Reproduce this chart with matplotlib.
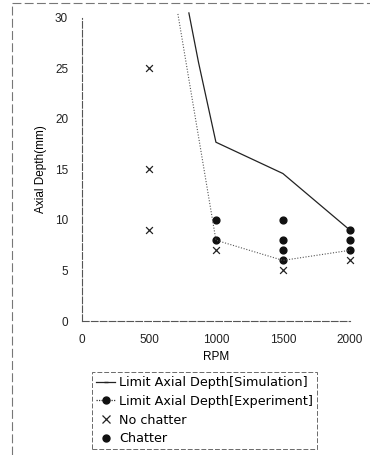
import matplotlib.pyplot as plt
from matplotlib.lines import Line2D

plt.rcParams["font.family"] = ["Liberation Sans", "DejaVu Sans"]

# limit curves
sim_rpm = [798, 870, 1000, 1500, 2000]
sim_depth = [30.5, 25.6, 17.7, 14.6, 9]
exp_rpm = [716, 1000, 1500, 2000]
exp_depth = [30.4, 8, 6, 7]

# cutting test results
stable_rpm = [500, 500, 500, 1000, 1500, 2000]
stable_depth = [25, 15, 9, 7, 5, 6]
chatter_rpm = [1000, 1000, 1500, 1500, 1500, 1500, 2000, 2000, 2000]
chatter_depth = [10, 8, 10, 8, 7, 6, 9, 8, 7]

x_ticks = [0, 500, 1000, 1500, 2000]
y_ticks = [0, 5, 10, 15, 20, 25, 30]

fig = plt.figure(figsize=(3.7, 4.55), dpi=100)
ax = fig.add_axes([0.2216, 0.2945, 0.724, 0.666])

ax.plot(sim_rpm, sim_depth, color="#222222", lw=0.9, clip_on=False)
ax.plot(exp_rpm, exp_depth, color="#555555", lw=0.8, ls=(0, (1, 1.5)), clip_on=False)
ax.scatter(stable_rpm, stable_depth, marker="x", s=24, color="#222222",
           linewidths=0.9, clip_on=False)
ax.scatter(chatter_rpm, chatter_depth, marker="o", s=24, color="#111111",
           clip_on=False)

ax.set_xlim(0, 2000)
ax.set_ylim(0, 30)
ax.set_xticks(x_ticks)
ax.set_yticks(y_ticks)
ax.tick_params(length=0, labelsize=8.5, pad=10, colors="#222222")
ax.tick_params(axis="x", pad=9)
for side in ("top", "right"):
    ax.spines[side].set_visible(False)
for side in ("left", "bottom"):
    ax.spines[side].set_color("#555555")
    ax.spines[side].set_linewidth(0.8)
    ax.spines[side].set_linestyle((0, (6, 2)))

ax.set_xlabel("RPM", fontsize=8.5, labelpad=4)
ax.set_ylabel("Axial Depth(mm)", fontsize=8.5, labelpad=6)

handles = [
    Line2D([], [], color="#222222", lw=0.9, marker="_", markersize=3),
    Line2D([], [], color="#333333", lw=0.9, ls=(0, (1, 1)), marker="o",
           markersize=5, markerfacecolor="#111111", markeredgecolor="#111111"),
    Line2D([], [], ls="none", marker="x", markersize=6, color="#222222", markeredgewidth=0.9),
    Line2D([], [], ls="none", marker="o", markersize=5, color="#111111"),
]
labels = ["Limit Axial Depth[Simulation]", "Limit Axial Depth[Experiment]",
          "No chatter", "Chatter"]
leg = fig.legend(handles, labels, loc="upper left", bbox_to_anchor=(0.249, 0.182),
                 prop={"family": "DejaVu Sans", "size": 9.2}, frameon=True,
                 fancybox=False, borderpad=0.3, labelspacing=0.45,
                 handlelength=1.5, handletextpad=0.3, borderaxespad=0)
leg.get_frame().set_edgecolor("#444444")
leg.get_frame().set_linewidth(0.7)
leg.get_frame().set_linestyle((0, (5, 2)))

# outer frame remnants
fig.add_artist(Line2D([12 / 370, 1], [1 - 3 / 455, 1 - 3 / 455], color="#777777",
                      lw=0.8, ls=(0, (8, 3))))
fig.add_artist(Line2D([12 / 370, 12 / 370], [0, 1 - 3 / 455], color="#777777",
                      lw=0.8, ls=(0, (8, 3))))

fig.savefig("out.png", dpi=100)
